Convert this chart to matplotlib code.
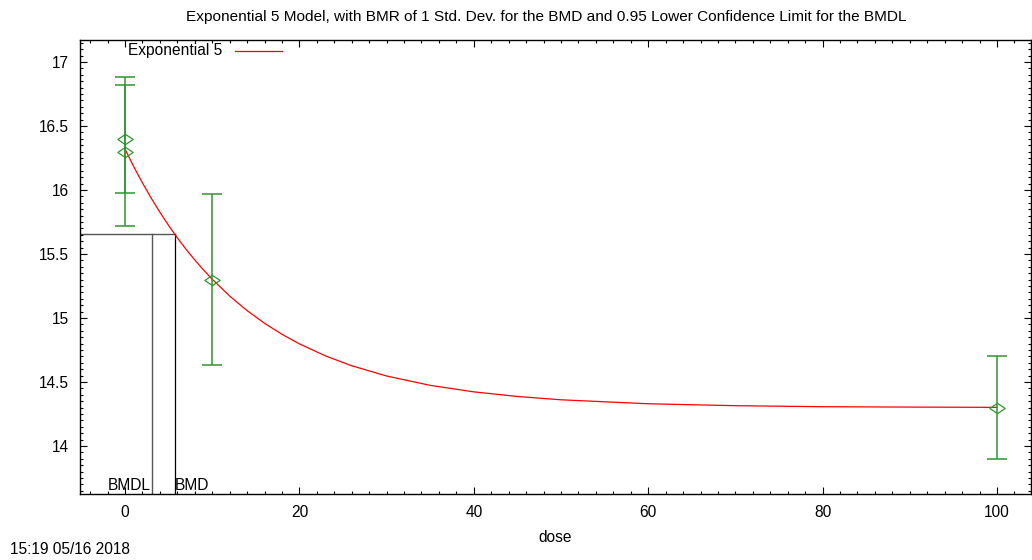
import matplotlib
matplotlib.use("Agg")
import matplotlib.pyplot as plt
from matplotlib.path import Path
from matplotlib.ticker import MultipleLocator

plt.rcParams['font.family'] = ['Liberation Sans', 'DejaVu Sans']

# observed data (dose, mean, half-width of error bar)
dose = [0, 0, 10, 100]
mean = [16.4, 16.3, 15.3, 14.3]
err = [0.42, 0.58, 0.67, 0.40]

# fitted curve
curve_dose = [0, 1, 2, 3, 4, 5, 6, 7, 8, 9, 10, 12, 14, 16, 18, 20, 23, 26,
              30, 35, 40, 45, 50, 60, 70, 80, 90, 100]
curve_resp = [16.32, 16.183, 16.056, 15.937, 15.827, 15.723, 15.627, 15.537,
              15.454, 15.376, 15.303, 15.172, 15.058, 14.959, 14.873, 14.798,
              14.704, 14.627, 14.547, 14.474, 14.423, 14.387, 14.361, 14.330,
              14.315, 14.307, 14.304, 14.302]

bmd = 5.70
bmdl = 3.10
bmr_level = 15.659

title = ("Exponential 5 Model, with BMR of 1 Std. Dev. for the BMD and "
         "0.95 Lower Confidence Limit for the BMDL")

W, H = 1032, 560
fs = 11.2
fig = plt.figure(figsize=(W / 100, H / 100), dpi=100)
ax = fig.add_axes([80 / W, (H - 494) / H, (1031 - 80) / W, (494 - 40) / H])

xmin, xmax = -5.16, 103.9
ymin, ymax = 13.625, 17.172

green = '#2e962e'
diamond = Path([(-1, 0), (0, 0.68), (1, 0), (0, -0.68), (-1, 0)],
               [Path.MOVETO, Path.LINETO, Path.LINETO, Path.LINETO, Path.CLOSEPOLY])

ax.errorbar(dose, mean, yerr=err, fmt='none', ecolor=green, elinewidth=1.1,
            capsize=7.5, capthick=1.1, zorder=3)
ax.plot(dose, mean, linestyle='none', marker=diamond, markersize=11,
        markerfacecolor='none', markeredgecolor=green, markeredgewidth=0.9, zorder=4)

ax.plot(curve_dose, curve_resp, color='#ff0000', lw=0.9, zorder=2)

# BMD / BMDL markers
ax.plot([xmin, bmd], [bmr_level, bmr_level], color='#555555', lw=1.0, zorder=1)
ax.plot([bmdl, bmdl], [ymin, bmr_level], color='#555555', lw=1.0, zorder=1)
ax.plot([bmd, bmd], [ymin, bmr_level], color='black', lw=0.9, zorder=1)
ax.text(bmdl - 0.1, 13.69, 'BMDL', ha='right', va='center', fontsize=fs)
ax.text(bmd + 0.05, 13.69, 'BMD', ha='left', va='center', fontsize=fs)

# legend drawn gnuplot-style
ax.text(0.150, 0.976, 'Exponential 5', transform=ax.transAxes,
        ha='right', va='center', fontsize=fs)
ax.plot([0.163, 0.212], [0.976, 0.976], transform=ax.transAxes,
        color='#ff0000', lw=0.9)

ax.set_xlim(xmin, xmax)
ax.set_ylim(ymin, ymax)
ax.xaxis.set_major_locator(MultipleLocator(20))
ax.xaxis.set_minor_locator(MultipleLocator(2))
ax.yaxis.set_minor_locator(MultipleLocator(0.05))
ax.set_yticks([14, 14.5, 15, 15.5, 16, 16.5, 17])
ax.set_yticklabels(['14', '14.5', '15', '15.5', '16', '16.5', '17'])
ax.tick_params(which='both', direction='in', top=True, right=True,
               labelsize=fs, width=0.8)
ax.tick_params(axis='x', pad=8)
ax.tick_params(axis='y', pad=8)
ax.tick_params(which='major', length=5)
ax.tick_params(which='minor', length=2.5)
for s in ax.spines.values():
    s.set_linewidth(1.0)

ax.set_xlabel('dose', fontsize=fs, labelpad=7)
fig.text(546 / W, 1 - 17 / H, title, ha='center', va='center', fontsize=11.1)
fig.text(10 / W, 1 - 550 / H, '15:19 05/16 2018', ha='left', va='center', fontsize=fs)

fig.savefig('out.png', dpi=100)
